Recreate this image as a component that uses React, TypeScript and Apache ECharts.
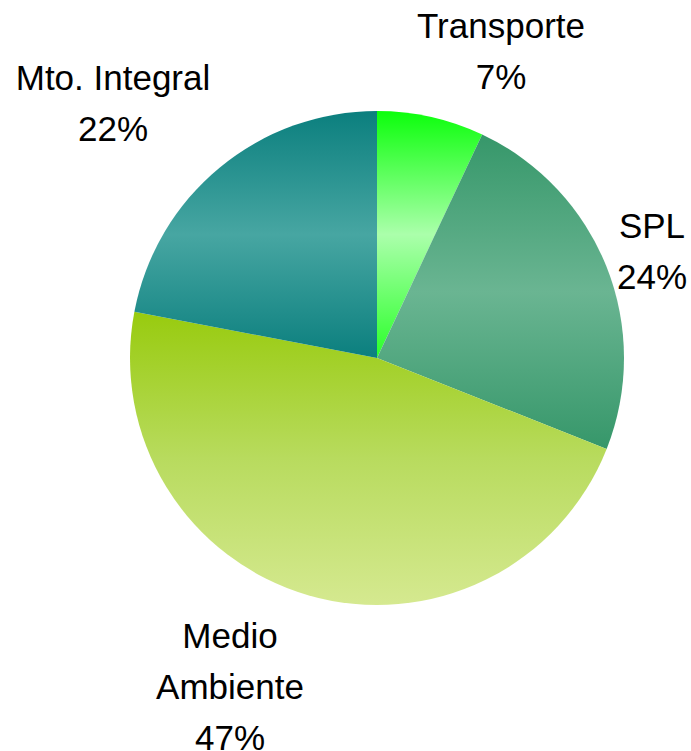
import React, { useEffect, useRef } from "react";
import * as echarts from "echarts";

const categories = ["Transporte", "SPL", "Medio Ambiente", "Mto. Integral"];
const values = [7, 24, 47, 22];
const labelTexts = ["Transporte", "SPL", "Medio\nAmbiente", "Mto. Integral"];

// gradient stops per slice: [edge/top, middle, edge/bottom]
const sliceGradients: string[][] = [
  ["#0cff0c", "#abffab", "#2aff2a"],
  ["#36976a", "#6ab592", "#36976a"],
  ["#98cb0e", "#b8db5e", "#d5e990"],
  ["#0b7f7e", "#47a6a2", "#0b7f7e"],
];

// label block centres (layout)
const labelPos: [number, number][] = [
  [501, 51],
  [652, 251],
  [230, 686],
  [113, 103],
];

export default function App() {
  const ref = useRef<HTMLDivElement>(null);
  useEffect(() => {
    if (!ref.current) return;
    const chart = echarts.init(ref.current, undefined, { renderer: "svg" });
    const data = categories.map((name, i) => ({
      name,
      value: values[i],
      itemStyle: {
        color: {
          type: "linear",
          x: 0,
          y: 0,
          x2: 0,
          y2: 1,
          colorStops: [
            { offset: 0, color: sliceGradients[i][0] },
            { offset: 0.5, color: sliceGradients[i][1] },
            { offset: 1, color: sliceGradients[i][2] },
          ],
        },
      },
    }));
    chart.setOption({
      animation: false,
      backgroundColor: "#ffffff",
      series: [
        {
          type: "pie",
          center: [377, 358],
          radius: 247,
          startAngle: 90,
          clockwise: true,
          avoidLabelOverlap: false,
          emphasis: { disabled: true },
          itemStyle: { borderWidth: 0 },
          label: {
            show: true,
            position: "outside",
            color: "#000000",
            fontFamily: "'Liberation Sans', Arial, sans-serif",
            fontSize: 35,
            lineHeight: 51,
            align: "center",
            formatter: (p: any) =>
              labelTexts[p.dataIndex] + "\n" + Math.round(p.percent) + "%",
          },
          labelLine: { show: false },
          labelLayout: (p: any) => ({
            x: labelPos[p.dataIndex][0],
            y: labelPos[p.dataIndex][1],
            align: "center",
            verticalAlign: "middle",
          }),
          data,
        },
      ],
    });
    return () => chart.dispose();
  }, []);
  return (
    <div
      ref={ref}
      style={{ position: "fixed", left: 0, top: 0, width: 691, height: 751, background: "#fff" }}
    />
  );
}
